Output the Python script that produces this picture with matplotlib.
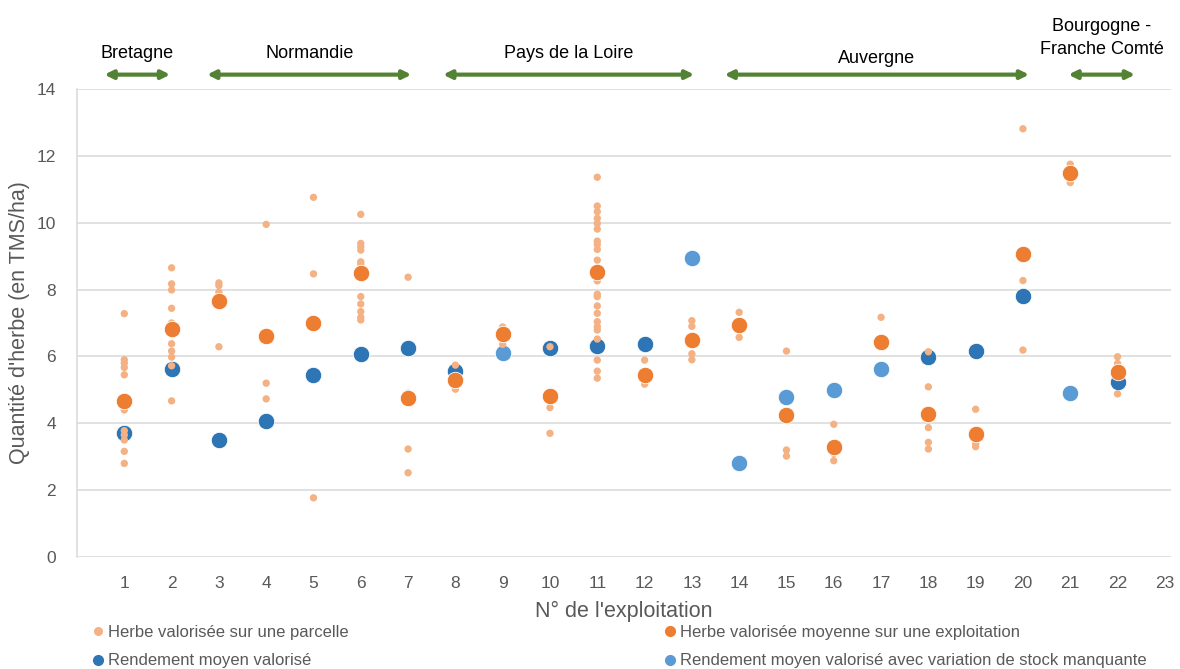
import matplotlib
matplotlib.use('Agg')
import matplotlib.pyplot as plt
import numpy as np

plt.rcParams['font.family'] = ['Liberation Sans', 'DejaVu Sans']

# --- data ---
exploitations = list(range(1, 23))

parcelles = [
    [7.28, 5.9, 5.8, 5.67, 5.45, 4.4, 3.78, 3.65, 3.5, 3.16, 2.8],
    [8.65, 8.17, 7.99, 7.44, 7.0, 6.38, 6.16, 5.98, 5.72, 4.67],
    [8.2, 8.12, 7.92, 6.29],
    [9.95, 5.2, 4.73],
    [10.76, 8.47, 1.77],
    [10.25, 9.38, 9.28, 9.18, 8.83, 8.76, 7.79, 7.57, 7.34, 7.17, 7.09],
    [8.37, 4.9, 3.23, 2.52],
    [5.74, 5.02],
    [6.88, 6.36],
    [6.29, 4.47, 3.7],
    [11.36, 10.5, 10.33, 10.13, 9.98, 9.81, 9.45, 9.35, 9.2, 8.88, 8.26,
     7.86, 7.79, 7.51, 7.29, 7.04, 6.89, 6.79, 6.52, 5.89, 5.56, 5.35],
    [5.89, 5.33, 5.17],
    [7.07, 6.9, 6.08, 5.9],
    [7.32, 6.57],
    [6.16, 3.2, 3.02],
    [3.97, 3.1, 2.88],
    [7.17],
    [6.14, 5.09, 3.87, 3.43, 3.23],
    [4.42, 3.38, 3.3],
    [12.81, 8.27, 6.19],
    [11.75, 11.2],
    [5.99, 5.79, 4.88],
]

moyenne_exploitation = [4.67, 6.81, 7.67, 6.6, 6.99, 8.5, 4.76, 5.29, 6.67, 4.81, 8.52,
                        5.44, 6.48, 6.94, 4.26, 3.3, 6.42, 4.28, 3.68, 9.06, 11.5, 5.54]

# None = no value for that farm
rendement = [3.70, 5.62, 3.5, 4.07, 5.44, 6.07, 6.26, 5.56, None, 6.24, 6.32,
             6.37, None, None, None, None, None, 5.99, 6.16, 7.81, None, 5.23]
rendement_stock = [None, None, None, None, None, None, None, None, 6.10, None, None,
                   None, 8.94, 2.82, 4.78, 5.01, 5.62, None, None, None, 4.92, None]

regions = ['Bretagne', 'Normandie', 'Pays de la Loire', 'Auvergne', 'Bourgogne -\nFranche Comté']
region_start = [0.58, 2.75, 7.74, 13.69, 20.96]
region_end = [1.97, 7.07, 13.05, 20.13, 22.37]
region_label_y = [14.8, 14.8, 14.8, 14.65, 14.92]

# --- styles ---
c_parc = '#F4B183'
c_moy = '#ED7D31'
c_rend = '#2E75B6'
c_stock = '#5B9BD5'
c_text = '#595959'
c_grid = '#D9D9D9'
c_arrow = '#548235'

fig = plt.figure(figsize=(11.8, 6.69), dpi=100)
ax = fig.add_axes([77 / 1180, 112 / 669, 1094 / 1180, 468 / 669])

px = np.repeat(exploitations, [len(p) for p in parcelles])
py = np.concatenate([np.array(p) for p in parcelles])

rx = [e for e, v in zip(exploitations, rendement) if v is not None]
ry = [v for v in rendement if v is not None]
sx = [e for e, v in zip(exploitations, rendement_stock) if v is not None]
sy = [v for v in rendement_stock if v is not None]

ax.scatter(rx, ry, s=140, color=c_rend, edgecolor='white', linewidth=0.6, zorder=3)
ax.scatter(sx, sy, s=140, color=c_stock, edgecolor='white', linewidth=0.6, zorder=3)
ax.scatter(px, py, s=28, color=c_parc, edgecolor='none', zorder=4)
ax.scatter(exploitations, moyenne_exploitation, s=140, color=c_moy,
           edgecolor='white', linewidth=0.6, zorder=5)

ax.set_xlim(0, 23.13)
ax.set_ylim(0, 14)
ax.set_xticks(range(1, 24))
ax.set_yticks(range(0, 15, 2))
ax.tick_params(length=0, labelsize=12.5, labelcolor=c_text)
ax.tick_params(axis='x', pad=14)
ax.tick_params(axis='y', pad=15)
ax.yaxis.grid(True, color=c_grid, linewidth=1.1)
ax.set_axisbelow(True)
for side in ['top', 'right', 'bottom']:
    ax.spines[side].set_visible(False)
ax.spines['left'].set_color(c_grid)
ax.spines['left'].set_linewidth(1.1)

ax.set_ylabel("Quantité d'herbe (en TMS/ha)", fontsize=15.5, color=c_text, labelpad=5)
ax.set_xlabel("N° de l'exploitation", fontsize=15.5, color=c_text, labelpad=7)

# region arrows and names above the plot
for name, x0, x1, ty in zip(regions, region_start, region_end, region_label_y):
    ax.annotate('', xy=(x0, 14.43), xytext=(x1, 14.43), xycoords='data',
                arrowprops=dict(arrowstyle='<|-|>', color=c_arrow, lw=3,
                                mutation_scale=12, shrinkA=0, shrinkB=0),
                annotation_clip=False)
    ax.text((x0 + x1) / 2, ty, name, ha='center', va='bottom', fontsize=13,
            color='black', linespacing=1.45, clip_on=False)

# legend in two blocks
h_parc = plt.Line2D([], [], marker='o', ls='', color=c_parc, markersize=5.5)
h_moy = plt.Line2D([], [], marker='o', ls='', color=c_moy, markersize=7)
h_rend = plt.Line2D([], [], marker='o', ls='', color=c_rend, markersize=7)
h_stock = plt.Line2D([], [], marker='o', ls='', color=c_stock, markersize=7)

leg_kw = dict(frameon=False, fontsize=12, handletextpad=0.1, handlelength=1.0,
              labelspacing=0.8, borderaxespad=0, borderpad=0, labelcolor=c_text)
leg1 = fig.legend([h_parc, h_rend], ['Herbe valorisée sur une parcelle', 'Rendement moyen valorisé'],
                  loc='upper left', bbox_to_anchor=(90 / 1180, 1 - 625 / 669), **leg_kw)
leg2 = fig.legend([h_moy, h_stock], ['Herbe valorisée moyenne sur une exploitation',
                                     'Rendement moyen valorisé avec variation de stock manquante'],
                  loc='upper left', bbox_to_anchor=(662 / 1180, 1 - 625 / 669), **leg_kw)

fig.savefig('out.png', dpi=100)
